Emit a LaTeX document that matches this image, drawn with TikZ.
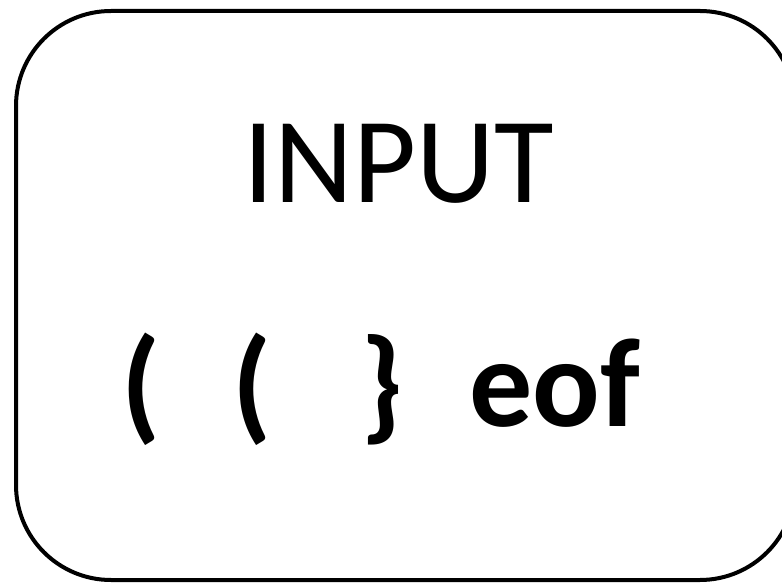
\documentclass[tikz,border=0pt]{standalone}
\usepackage{fontspec}
\setmainfont{Carlito}
\begin{document}
\begin{tikzpicture}[x=1pt,y=1pt,
  frame/.style={draw=black,line width=4pt,rounded corners=95pt},
  title/.style={inner sep=0pt,anchor=base,font=\fontsize{122}{130}\selectfont},
  tok/.style={inner sep=0pt,anchor=base,font=\fontsize{126}{134}\selectfont\bfseries}]
\useasboundingbox (0,0) rectangle (782,584);
\draw[frame] (16,4) rectangle (795,573);
\node[title] (input) at (399,381) {INPUT};
\node[tok] (p1) at (141,157) {(};
\node[tok] (p2) at (252,157) {(};
\node[tok] (br) at (382,157) {\}};
\node[tok] (eof) at (555,157) {eof};
\end{tikzpicture}
\end{document}
